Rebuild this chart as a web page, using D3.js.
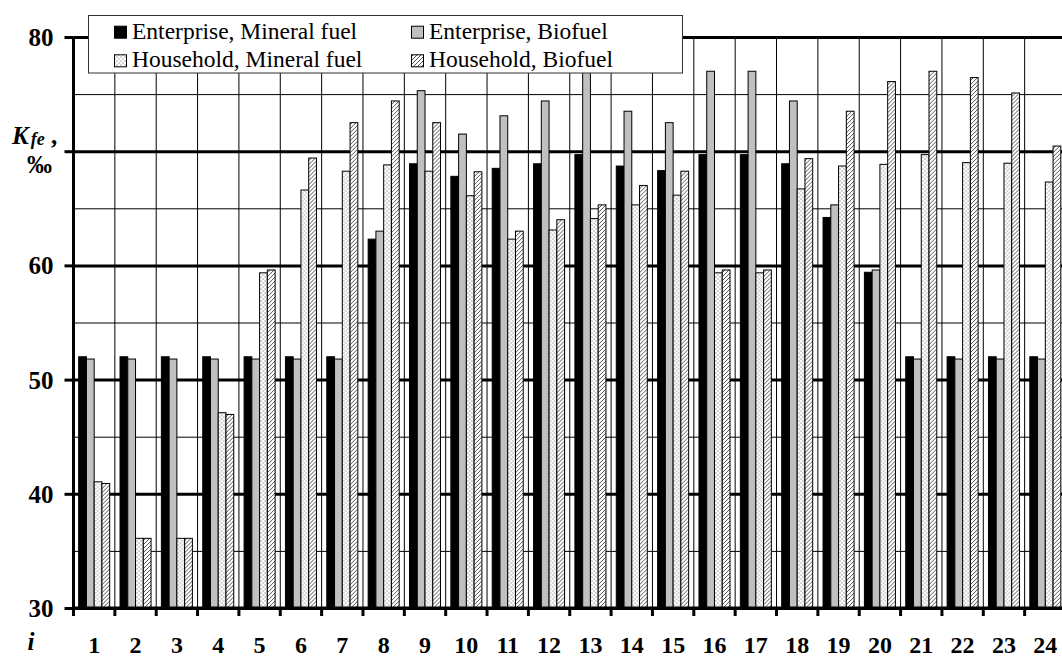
<!DOCTYPE html>
<html>
<head>
<meta charset="utf-8">
<script src="https://cdn.jsdelivr.net/npm/d3@7"></script>
<style>
  html, body { margin: 0; padding: 0; background: #fff; }
  svg { display: block; }
</style>
</head>
<body>
<svg id="chart" width="1062" height="657" font-family="Liberation Serif"></svg>
<script>
const categories = ["1","2","3","4","5","6","7","8","9","10","11","12","13","14","15","16","17","18","19","20","21","22","23","24"];
const seriesNames = ["Enterprise, Mineral fuel", "Enterprise, Biofuel", "Household, Mineral fuel", "Household, Biofuel"];
const enterpriseMineral = [52, 52, 52, 52, 52, 52, 52, 62.3, 68.9, 67.8, 68.5, 68.9, 69.7, 68.7, 68.3, 69.7, 69.7, 68.9, 64.2, 59.4, 52, 52, 52, 52];
const enterpriseBio = [51.8, 51.8, 51.8, 51.8, 51.8, 51.8, 51.8, 63.0, 75.3, 71.5, 73.1, 74.4, 80, 73.5, 72.5, 77.0, 77.0, 74.4, 65.3, 59.6, 51.8, 51.8, 51.8, 51.8];
const householdMineral = [41.05, 36.1, 36.1, 47.1, 59.35, 66.6, 68.25, 68.8, 68.25, 66.1, 62.3, 63.1, 64.1, 65.3, 66.15, 59.35, 59.35, 66.7, 68.7, 68.85, 69.7, 69.0, 68.95, 67.3];
const householdBio = [40.9, 36.1, 36.1, 46.95, 59.6, 69.4, 72.5, 74.4, 72.5, 68.2, 63.0, 64.0, 65.3, 67.0, 68.25, 59.6, 59.6, 69.35, 73.5, 76.1, 77.0, 76.45, 75.1, 70.45];
const majorTicks = [30, 40, 50, 60, 70, 80];
const minorTicks = [35, 45, 55, 65, 75];
const tickLabels = ["30", "40", "50", "60", "", "80"];

(function () {
const FONT = "Liberation Serif";
const svg = d3.select("#chart");
const pLeft = 73.5, pRight = 1066, pTop = 37, pBottom = 608;

const seriesData = [enterpriseMineral, enterpriseBio, householdMineral, householdBio];
const fills = ["#000000", "#c0c0c0", "url(#dots)", "url(#hatch)"];

// patterns
const defs = svg.append("defs");
const dots = defs.append("pattern").attr("id", "dots").attr("patternUnits", "userSpaceOnUse")
  .attr("width", 4).attr("height", 4);
dots.append("rect").attr("width", 4).attr("height", 4).attr("fill", "#fff");
dots.append("rect").attr("x", 0.5).attr("y", 0.5).attr("width", 1).attr("height", 1).attr("fill", "#555");
dots.append("rect").attr("x", 2.5).attr("y", 2.5).attr("width", 1).attr("height", 1).attr("fill", "#555");
const hatch = defs.append("pattern").attr("id", "hatch").attr("patternUnits", "userSpaceOnUse")
  .attr("width", 4).attr("height", 4);
hatch.append("rect").attr("width", 4).attr("height", 4).attr("fill", "#fff");
hatch.append("path").attr("d", "M-1,1 l2,-2 M0,4 l4,-4 M3,5 l2,-2")
  .attr("stroke", "#555").attr("stroke-width", 1);

const x0 = d3.scaleBand().domain(categories).range([pLeft, pRight])
  .paddingInner(0.25).paddingOuter(0.125);
const x1 = d3.scaleBand().domain(d3.range(4)).range([0, x0.bandwidth()]);
const y = d3.scaleLinear().domain([30, 80]).range([pBottom, pTop]);
const step = x0.step();
const boundary = i => pLeft + i * step;

// minor gridlines
svg.append("g").attr("transform", `translate(${pLeft},0)`)
  .call(d3.axisLeft(y).tickValues(minorTicks).tickSize(-(pRight - pLeft)).tickFormat(""))
  .call(g => g.select(".domain").remove())
  .call(g => g.selectAll("line").attr("stroke", "#000").attr("stroke-width", 1));

// vertical gridlines at category boundaries
svg.append("g").selectAll("line").data(d3.range(1, 24)).join("line")
  .attr("x1", d => boundary(d)).attr("x2", d => boundary(d))
  .attr("y1", pTop).attr("y2", pBottom)
  .attr("stroke", "#000").attr("stroke-width", 1);

// major gridlines
svg.append("g").attr("transform", `translate(${pLeft},0)`)
  .call(d3.axisLeft(y).tickValues(majorTicks).tickSize(-(pRight - pLeft)).tickFormat(""))
  .call(g => g.select(".domain").remove())
  .call(g => g.selectAll("line").attr("stroke", "#000").attr("stroke-width", 3));

// bars
const groups = svg.append("g").selectAll("g").data(categories).join("g")
  .attr("transform", d => `translate(${x0(d)},0)`);
groups.selectAll("rect").data((d, i) => seriesData.map((s, k) => ({k, v: s[i]}))).join("rect")
  .attr("x", d => x1(d.k))
  .attr("width", x1.bandwidth())
  .attr("y", d => y(d.v))
  .attr("height", d => y(30) - y(d.v))
  .attr("fill", d => fills[d.k])
  .attr("stroke", "#000").attr("stroke-width", 1);

// Y axis
svg.append("g").attr("transform", `translate(${pLeft},0)`)
  .call(d3.axisLeft(y).tickValues(majorTicks).tickSize(9).tickPadding(11)
    .tickFormat((d, i) => tickLabels[i]))
  .call(g => g.attr("font-family", FONT))
  .call(g => g.select(".domain").attr("stroke-width", 3).attr("d", `M0,${pTop}V${pBottom}`))
  .call(g => g.selectAll("line").attr("stroke-width", 3))
  .call(g => g.selectAll("text").attr("font-size", 25).attr("font-weight", "bold")
    .attr("font-family", FONT).attr("fill", "#000").attr("dy", "0.34em"));

// X axis
svg.append("g").attr("transform", `translate(0,${pBottom})`)
  .call(d3.axisBottom(x0).tickSize(0).tickPadding(28))
  .call(g => g.attr("font-family", FONT))
  .call(g => g.select(".domain").attr("stroke-width", 3).attr("d", `M${pLeft - 1.5},0H${pRight}`))
  .call(g => g.selectAll("text").attr("font-size", 24).attr("font-weight", "bold")
    .attr("font-family", FONT).attr("fill", "#000"));

// boundary ticks
svg.append("g").selectAll("line").data(d3.range(0, 25)).join("line")
  .attr("x1", d => boundary(d)).attr("x2", d => boundary(d))
  .attr("y1", pBottom).attr("y2", pBottom + 8)
  .attr("stroke", "#000").attr("stroke-width", 3);

// axis titles
const yt = svg.append("text").attr("font-family", FONT).attr("font-weight", "bold").attr("font-style", "italic")
  .attr("x", 12).attr("y", 144);
yt.append("tspan").attr("font-size", 25).text("K");
yt.append("tspan").attr("font-size", 18).attr("dx", 2).attr("dy", 1).text("fe");
yt.append("tspan").attr("font-size", 25).attr("font-style", "normal").attr("dy", -1).text(" ,");
svg.append("text").attr("font-family", FONT).attr("font-weight", "bold").attr("font-size", 25)
  .attr("x", 27).attr("y", 173).text("‰");
svg.append("text").attr("font-family", FONT).attr("font-weight", "bold").attr("font-style", "italic").attr("font-size", 25)
  .attr("x", 31).attr("y", 650).attr("text-anchor", "middle").text("i");

// legend
const lg = svg.append("g");
lg.append("rect").attr("x", 88.5).attr("y", 15.5).attr("width", 594).attr("height", 57.5)
  .attr("fill", "#fff").attr("stroke", "#333").attr("stroke-width", 1);
const legendPos = [[114, 38.7], [411, 38.7], [114, 67.3], [411, 67.3]];
seriesNames.forEach((name, k) => {
  const [lx, ly] = legendPos[k];
  lg.append("rect").attr("x", lx + 0.5).attr("y", ly - 12.5).attr("width", 12).attr("height", 12)
    .attr("fill", fills[k]).attr("stroke", "#000").attr("stroke-width", 1);
  lg.append("text").attr("x", lx + 18).attr("y", ly).attr("font-family", FONT)
    .attr("font-size", 23.5).attr("fill", "#000").text(name);
});
})();
</script>
</body>
</html>
